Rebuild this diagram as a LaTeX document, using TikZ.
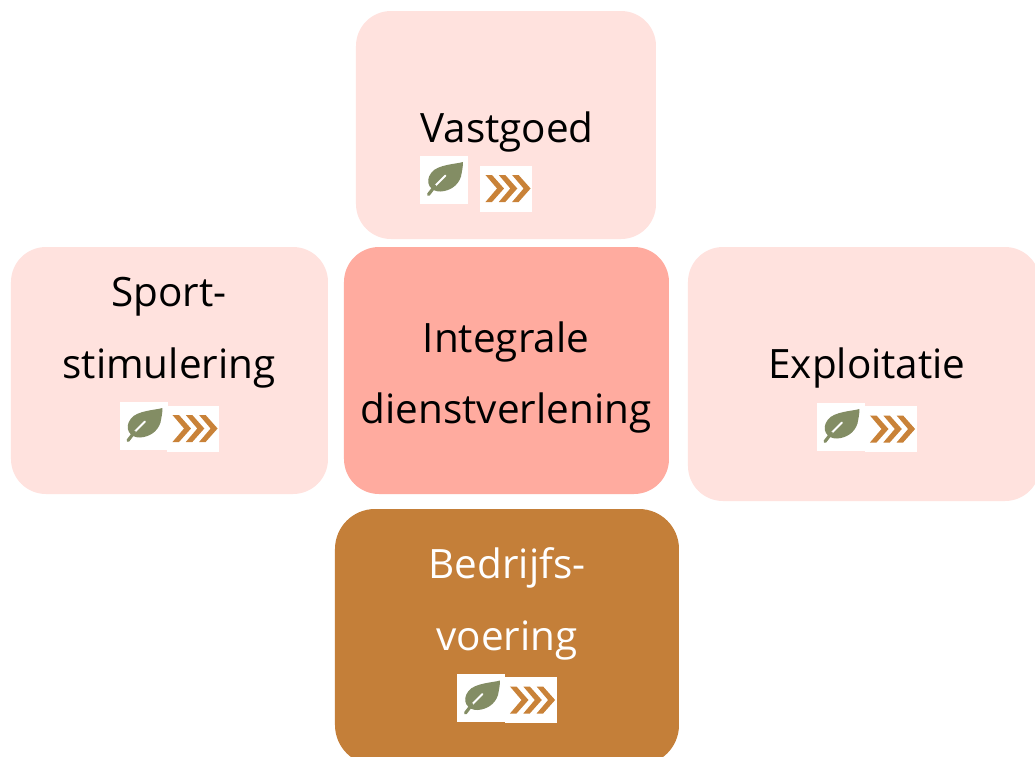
\documentclass[tikz,border=0pt]{standalone}
\usepackage{fontspec}
\setmainfont{Open Sans}
\definecolor{lightpink}{HTML}{FFE2DE}
\definecolor{midpink}{HTML}{FFAB9F}
\definecolor{brownbox}{HTML}{C47F39}
\definecolor{leafgreen}{HTML}{838D64}
\definecolor{chevronbrown}{HTML}{C98238}
\tikzset{
  tile/.style={draw=none, rounded corners=35*0.01cm, inner sep=0pt},
  caption/.style={align=center, text=black, font=\fontsize{11.5}{20.4}\selectfont},
  leafpic/.pic={
    \fill[white] (-24,-24) rectangle (24,24);
    \fill[leafgreen] (18.5,-17.5) .. controls (12,-15.5) and (-7,-15) .. (-13,-7) .. controls (-17,-2) and (-17,3) .. (-15,6.5) .. controls (-12.5,10.5) and (-9,12) .. (-4,12) .. controls (5,11.5) and (13.5,6.5) .. (16.5,-3) .. controls (17.5,-8) and (18.5,-13) .. (18.5,-17.5) -- cycle;
    \draw[white, line width=0.6pt, line cap=round] (1,-4) -- (-9,6);
    \draw[leafgreen, line width=0.9pt, line cap=round] (-9.5,6.5) -- (-16,15);
  },
  chevronpic/.pic={
    \fill[white] (-26,-23) rectangle (26,23);
    \foreach \dx in {0,13.3,26.6}
      \fill[chevronbrown, xshift=\dx*0.01cm] (-21,-13.5) -- (-14.5,-13.5) -- (-2.5,0) -- (-14.5,13.5) -- (-21,13.5) -- (-9.5,0) -- cycle;
  }
}
\begin{document}
\begin{tikzpicture}[x=0.01cm, y=-0.01cm]
  \clip (0,0) rectangle (1035,757);
  \fill[white] (0,0) rectangle (1035,757);

  \node (vastgoed) at (506,125) [tile, fill=lightpink, minimum width=300*0.01cm, minimum height=228*0.01cm] {};
  \node (sport) at (169.5,370.5) [tile, fill=lightpink, minimum width=317*0.01cm, minimum height=247*0.01cm] {};
  \node (integraal) at (506.5,370.5) [tile, fill=midpink, minimum width=325*0.01cm, minimum height=247*0.01cm] {};
  \node (exploitatie) at (864,374) [tile, fill=lightpink, minimum width=352*0.01cm, minimum height=254*0.01cm] {};
  \node (bedrijf) at (507,637) [tile, rounded corners=40*0.01cm, fill=brownbox, minimum width=344*0.01cm, minimum height=256*0.01cm] {};

  \node (t1) at (507,132) [caption] {Vastgoed};
  \node (t2) at (169,332.5) [caption] {Sport-\\stimulering};
  \node (t3) at (506,377.5) [caption] {Integrale\\dienstverlening};
  \node (t4) at (867,368) [caption] {Exploitatie};
  \node (t5) at (507,604) [caption, text=white] {Bedrijfs-\\voering};

  \pic at (444.5,179.5) {leafpic};
  \pic at (506.5,188.5) {chevronpic};
  \pic at (144,425.5) {leafpic};
  \pic at (193.5,428.5) {chevronpic};
  \pic at (841,426.5) {leafpic};
  \pic at (891,429) {chevronpic};
  \pic at (481.5,698) {leafpic};
  \pic at (531,700) {chevronpic};
\end{tikzpicture}
\end{document}
